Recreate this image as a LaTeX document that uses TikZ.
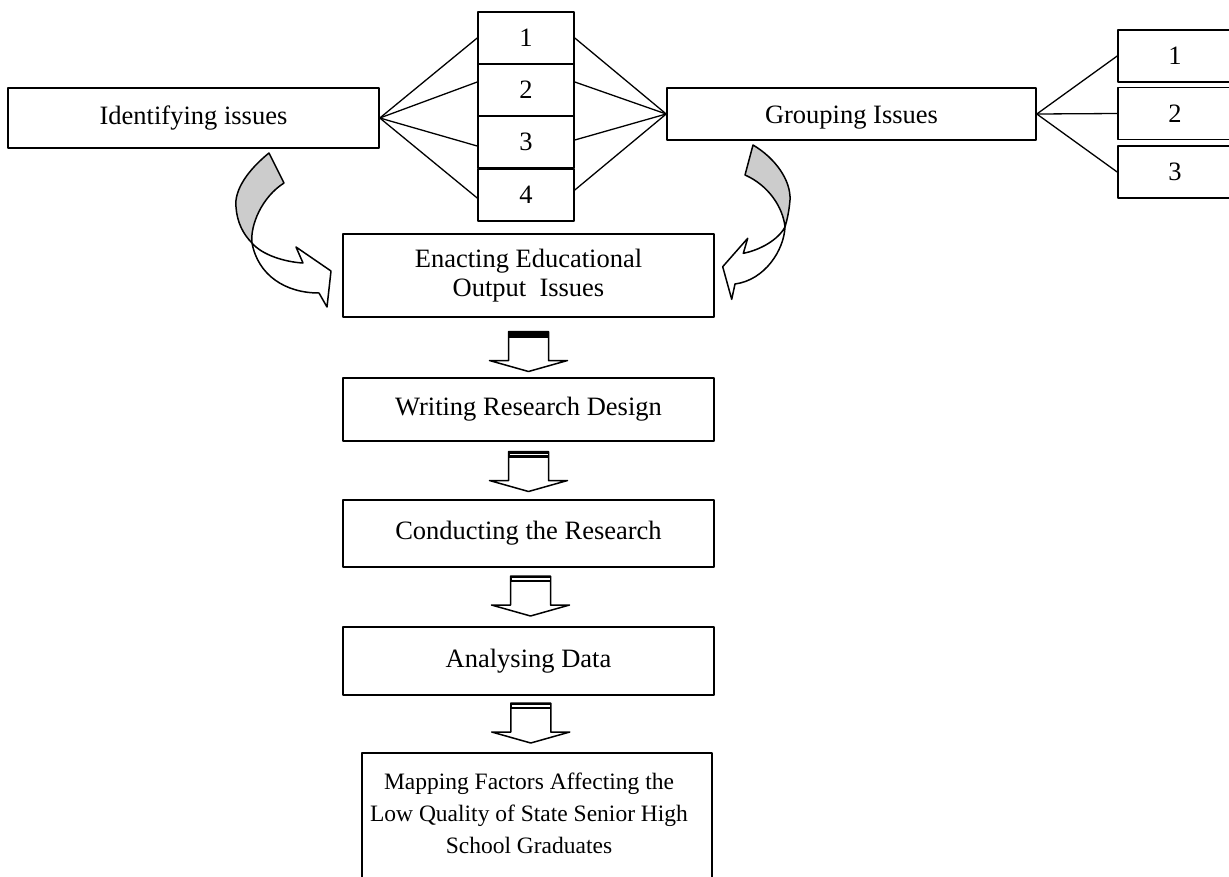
\documentclass[tikz,border=0pt]{standalone}
\usepackage{fontspec}
\setmainfont{Liberation Serif}
\usetikzlibrary{calc}
\begin{document}
\begin{tikzpicture}[x=1pt,y=-1pt,line width=1.6pt,line join=round,
	box/.style={draw,inner sep=0pt,font=\fontsize{26.5}{29}\selectfont,align=center},
	oneline/.style={text height=18pt,text depth=6pt},
	numbox/.style={box,minimum width=96,minimum height=52},
	sidebox/.style={box,minimum width=114,minimum height=52},
	stepbox/.style={box,minimum width=371},
	fanline/.style={line width=1.3pt},
	blockarrow/.style={draw,fill=white,line width=1.5pt},
	ribbon/.style={draw,line width=1.5pt}]
	\useasboundingbox (0,0) rectangle (1229,876);
	\clip (0,0) rectangle (1229,876);
	% top row
	\node[box,oneline,minimum width=371,minimum height=60] (ident) at (193.5,118) {Identifying issues};
	\foreach \i/\y in {1/38,2/90,3/142,4/195}
		\node[numbox] (c\i) at (526,\y) {\i};
	\node[box,text height=21pt,text depth=3pt,minimum width=369,minimum height=52] (group) at (851.5,114) {Grouping Issues};
	\foreach \i/\y in {1/56,2/113.5,3/172}
		\node[sidebox] (r\i) at (1175,\y) {\i};
	\foreach \i/\dl/\dr in {1/0/0,2/8/8,3/-4/2,4/-3/5}{
		\draw[fanline] (ident.east) -- ([yshift=\dl pt]c\i.west);
		\draw[fanline] ([yshift=\dr pt]c\i.east) -- (group.west);
	}
	\foreach \i in {1,2,3}
		\draw[fanline] (group.east) -- (r\i.west);
	% column of steps
	\node[stepbox,minimum height=83] (enact) at (528.5,275.5) {Enacting Educational\\Output~ Issues};
	\node[stepbox,oneline,minimum height=63] (write) at (528.5,409.5) {Writing Research Design};
	\node[stepbox,oneline,minimum height=67] (conduct) at (528.5,533.5) {Conducting the Research};
	\node[stepbox,oneline,minimum height=68] (analyse) at (528.5,661) {Analysing Data};
	\node[box,minimum width=350,minimum height=130] (mapping) at (537,818) {};
	\node[font=\fontsize{23.5}{32}\selectfont,align=center] (maptext) at (529,813)
		{Mapping Factors Affecting the\\Low Quality of State Senior High\\School Graduates};
	\foreach \a/\b/\dx/\dy in {enact/write/0/4,write/conduct/0/1,conduct/analyse/2/-1,analyse/mapping/-2/-1}{
		\path ($(\a.south)!.5!(\b.north)$) ++(\dx,\dy) coordinate (m\b);
		\draw[blockarrow] ([shift={(-20,-20)}]m\b) -- ++(0,29) -- ++(-19,0) -- ++(39,11)
			-- ++(39,-11) -- ++(-19,0) -- ++(0,-29) -- cycle;
		\fill ([shift={(-20,-20)}]m\b) rectangle ++(40,6);
	}
	\foreach \b in {conduct,analyse,mapping}
		\draw[white,line width=1.2pt] ([shift={(-19,-17)}]m\b) -- ++(38,0);
	% curved arrows
	\path[ribbon,fill=black!20] (269,153) .. controls (248,170) and (234,190) .. (236,207)
		.. controls (237,222) and (243,234) .. (252,243)
		.. controls (250,225) and (262,197) .. (284,183) -- cycle;
	\path[ribbon,fill=white] (252,243) .. controls (258,275) and (285,293) .. (319,293)
		-- (327,307) -- (331,271) -- (296,247) -- (303,263)
		.. controls (285,262) and (262,255) .. cycle;
	\path[ribbon,fill=black!20] (753,145) .. controls (775,158) and (791,180) .. (790,200)
		.. controls (789,212) and (787,220) .. (785,227)
		.. controls (783,207) and (768,185) .. (745,175) -- cycle;
	\path[ribbon,fill=white] (785,227) .. controls (784,250) and (765,280) .. (735,284)
		-- (731.7,299.3) -- (722.7,266.7) -- (747.7,238.3) -- (743.3,253.3)
		.. controls (760,250) and (778,240) .. cycle;
\end{tikzpicture}
\end{document}
